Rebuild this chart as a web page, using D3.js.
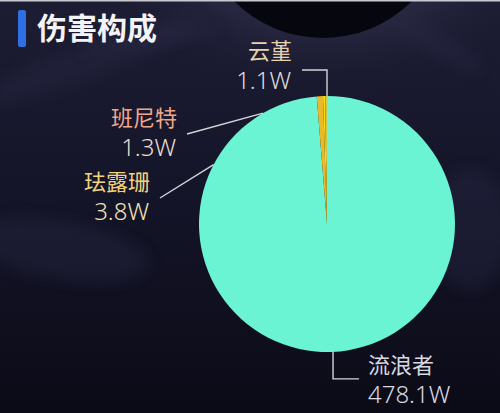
<!DOCTYPE html>
<html><head><meta charset="utf-8">
<script src="https://cdn.jsdelivr.net/npm/d3@7"></script>
<style>
html,body{margin:0;padding:0;background:#12121f;}
svg{display:block;}
</style></head>
<body>
<svg id="chart" width="500" height="413"></svg>
<script>
// ---- data ----
const names  = ["流浪者", "珐露珊", "班尼特", "云堇"];
const values = [478.1, 3.8, 1.3, 1.1];
const valueLabels = ["478.1W", "3.8W", "1.3W", "1.1W"];
const title = "伤害构成";

// ---- styles / layout ----
const sliceColors = ["#6af4d4", "#e9b92a", "#f6dc12", "#d4c63a"];
const nameColors  = ["#d9d9e2", "#f2d27e", "#f2a78a", "#e9d3ad"];
const valColors   = ["#d9d9e2", "#f1e2b8", "#e9dccd", "#dcdcdc"];

const W = 500, H = 413;
const cx = 327, cy = 224, R = 128;

const svg = d3.select("#chart");
const defs = svg.append("defs");

// background
const bg = defs.append("linearGradient").attr("id","bg").attr("x1",0).attr("y1",0).attr("x2",0).attr("y2",1);
bg.append("stop").attr("offset","0%").attr("stop-color","#1c1c33");
bg.append("stop").attr("offset","45%").attr("stop-color","#15152a");
bg.append("stop").attr("offset","100%").attr("stop-color","#0b0b17");
svg.append("rect").attr("width",W).attr("height",H).attr("fill","url(#bg)");

const glow = defs.append("radialGradient").attr("id","glow");
glow.append("stop").attr("offset","0%").attr("stop-color","#3e3e5a").attr("stop-opacity",0.95);
glow.append("stop").attr("offset","60%").attr("stop-color","#2c2c46").attr("stop-opacity",0.6);
glow.append("stop").attr("offset","100%").attr("stop-color","#1a1a30").attr("stop-opacity",0);
svg.append("ellipse").attr("cx",323).attr("cy",-60).attr("rx",240).attr("ry",155).attr("fill","url(#glow)");

const blur = defs.append("filter").attr("id","blur").attr("x","-20%").attr("y","-20%").attr("width","140%").attr("height","140%");
blur.append("feGaussianBlur").attr("stdDeviation",7);
// faint texture streaks
const streaks = [[90,60,120,18,-20],[430,40,60,14,30],[60,250,90,30,10],[470,230,40,60,0],[150,40,70,10,-10]];
streaks.forEach(s=>{
  svg.append("ellipse").attr("cx",s[0]).attr("cy",s[1]).attr("rx",s[2]).attr("ry",s[3])
    .attr("transform",`rotate(${s[4]},${s[0]},${s[1]})`)
    .attr("fill","#2c2c46").attr("opacity",0.35).attr("filter","url(#blur)");
});
// dark circle at top
svg.append("circle").attr("cx",323).attr("cy",-88).attr("r",126).attr("fill","#06060e");
// thin light line at top edge
svg.append("rect").attr("x",0).attr("y",0).attr("width",W).attr("height",1.5).attr("fill","#c9c9d2");

// title
svg.append("rect").attr("x",18).attr("y",10).attr("width",8).attr("height",37).attr("rx",2).attr("fill","#2f6fe3");
svg.append("text").attr("x",37).attr("y",39).text(title)
  .attr("fill","#f4f4f8").attr("font-family","'Noto Sans CJK SC'").attr("font-weight",700).attr("font-size",30);

// pie
const pie = d3.pie().sort(null).value(d=>d);
const arcs = pie(values);
const arc = d3.arc().innerRadius(0).outerRadius(R);
const g = svg.append("g").attr("transform",`translate(${cx},${cy})`);
g.selectAll("path").data(arcs).join("path")
  .attr("d",arc).attr("fill",(d,i)=>sliceColors[i]);

// labels: anchor angle on rim (degrees, clockwise from top), label position
const labelLayout = [
  {ang:177.3, kind:"elbowDown", tx:368, ty:373, anchor:"start"},
  {ang:-62.4, kind:"straight", end:[160,198], tx:150, ty:190, anchor:"end"},
  {ang:-30,   kind:"straight", end:[187,134], tx:177, ty:126, anchor:"end"},
  {ang:0,     kind:"elbowUp",  tx:292, ty:59,  anchor:"end"}
];
const rim = a => [cx + R*Math.sin(a*Math.PI/180), cy - R*Math.cos(a*Math.PI/180)];
const lineG = svg.append("g").attr("fill","none").attr("stroke","#d4d4dc").attr("stroke-width",1.4);
labelLayout.forEach((L,i)=>{
  const p = rim(L.ang);
  let pts;
  if (L.kind==="elbowUp") pts = [p,[p[0],p[1]-26],[p[0]-25,p[1]-26]];
  else if (L.kind==="elbowDown") pts = [p,[p[0],p[1]+27],[p[0]+26,p[1]+27]];
  else pts = [p, L.end];
  lineG.append("path").attr("d", d3.line()(pts));
  svg.append("text").attr("x",L.tx).attr("y",L.ty).attr("text-anchor",L.anchor)
    .attr("font-family","'Noto Sans CJK SC'").attr("font-size",22).attr("fill",nameColors[i]).text(names[i]);
  svg.append("text").attr("x",L.tx + (L.anchor==="end"? -1:0)).attr("y",L.ty+30).attr("text-anchor",L.anchor)
    .attr("font-family","'Noto Sans'").attr("font-weight",300).attr("font-size",24).attr("fill",valColors[i]).text(valueLabels[i]);
});
</script>
</body></html>
